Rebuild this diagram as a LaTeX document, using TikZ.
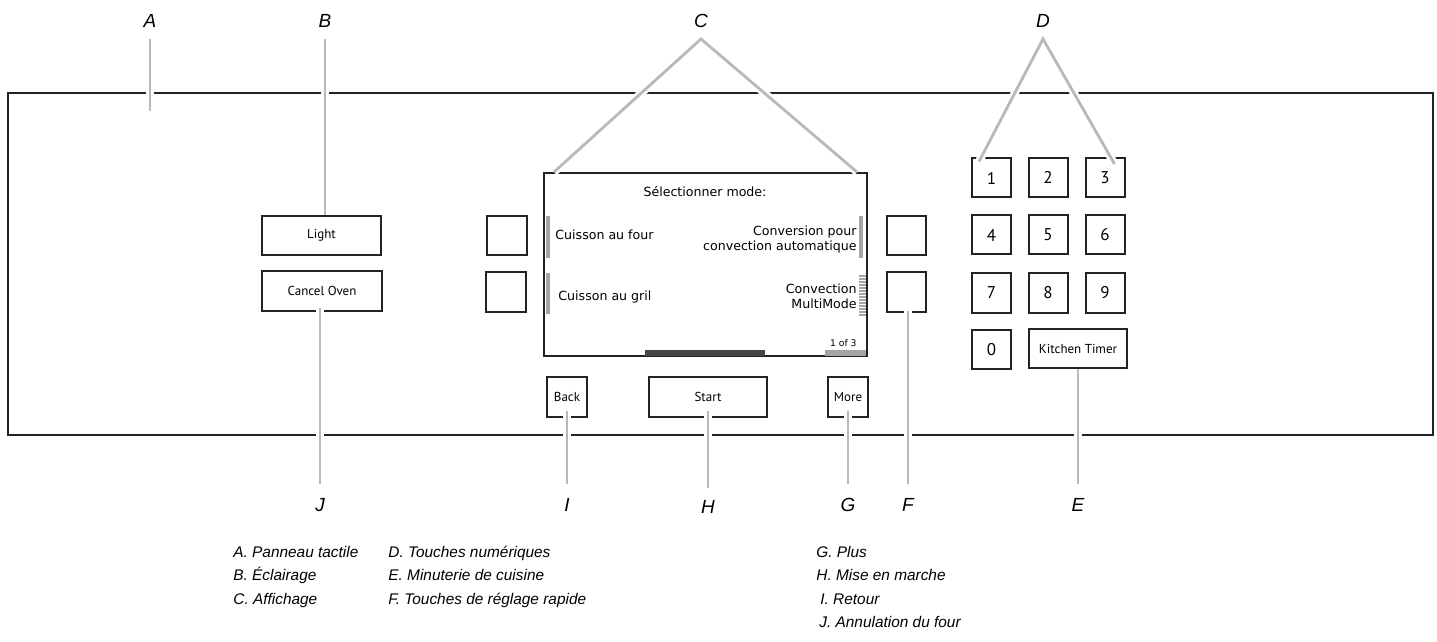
\documentclass[tikz,border=0pt]{standalone}
\usepackage{fontspec}
\setmainfont{Liberation Sans}
\newfontfamily\btnfont{PT Sans}
\newfontfamily\lcdfont{DejaVu Sans}
\usepackage{xcolor}
\usepackage{tikz}
\definecolor{framecol}{RGB}{35,35,35}
\definecolor{leadcol}{RGB}{185,185,185}
\definecolor{barcol}{RGB}{165,165,165}
\definecolor{darkbar}{RGB}{70,70,70}

\tikzset{
  btn/.style={draw=framecol, line width=1pt, inner sep=0pt,
    font=\btnfont\fontsize{6.5}{7}\selectfont},
  keybtn/.style={btn, minimum width=19.5pt, minimum height=19.5pt,
    font=\btnfont\fontsize{8.5}{9}\selectfont},
  letter/.style={inner sep=0pt, font=\fontsize{9.5}{10}\selectfont\itshape},
  leader/.style={draw=leadcol, line width=1.4pt,
    preaction={draw=white, line width=4pt}},
  legend/.style={anchor=base west, inner sep=0pt,
    font=\fontsize{7.7}{9}\selectfont\itshape},
  lcd/.style={inner sep=0pt, font=\lcdfont\fontsize{6.3}{7.5}\selectfont}
}

\begin{document}
\begin{tikzpicture}[x=0.5pt, y=-0.5pt]
  \useasboundingbox (0,0) rectangle (1437,642);

  % control panel frame
  \node[draw=framecol, line width=1pt, inner sep=0pt,
    minimum width=712.5pt, minimum height=171pt] (panel) at (720.5,264) {};

  % left buttons
  \node[btn, minimum width=59.5pt, minimum height=19.5pt] (light) at (321.5,235.5) {Light};
  \node[btn, minimum width=60pt, minimum height=20pt] (cancel) at (322,291) {Cancel Oven};

  % display
  \node[draw=framecol, line width=1pt, inner sep=0pt,
    minimum width=161.5pt, minimum height=91.5pt] (lcd) at (705.5,264.5) {};
  \fill[barcol] (546,216) rectangle (550,258);
  \fill[barcol] (546,273) rectangle (550,314);
  \fill[barcol] (859,216) rectangle (863,258);
  \foreach \yy in {276,279,...,315}
    \draw[barcol, line width=0.6pt] (859,\yy) -- (866,\yy);
  \fill[darkbar] (645,350) rectangle (765,356);
  \fill[barcol] (825,350) rectangle (866,356);
  \node[lcd] (title) at (705,192) {Sélectionner mode:};
  \node[lcd, anchor=west] (bake) at (555,235) {Cuisson au four};
  \node[lcd, anchor=west] (broil) at (558,297) {Cuisson au gril};
  \node[lcd, anchor=east, align=right] (conv) at (857,240)
    {Conversion pour\\convection automatique};
  \node[lcd, anchor=east, align=right] (multi) at (857,296.5)
    {Convection\\MultiMode};
  \node[lcd, anchor=east, font=\lcdfont\fontsize{4.6}{5}\selectfont] (page) at (857,343) {1 of 3};

  % quick set keys
  \node[keybtn, minimum width=20pt] (lsq1) at (507,235.5) {};
  \node[keybtn, minimum width=20pt, minimum height=20pt] (lsq2) at (506,292) {};
  \node[keybtn] (rsq1) at (906.5,235.5) {};
  \node[keybtn, minimum height=20pt] (rsq2) at (906.5,292) {};

  % bottom row
  \node[btn, minimum width=20pt, minimum height=20pt] (back) at (567,397) {Back};
  \node[btn, minimum width=59pt, minimum height=20pt] (start) at (708,397) {Start};
  \node[btn, minimum width=20pt, minimum height=20pt] (more) at (848,397) {More};

  % number pad
  \foreach \n/\xx/\yy in {1/991.5/178, 2/1048/177.5, 3/1105/177.5,
                          4/991.5/235, 5/1048/235, 6/1105/235,
                          7/991.5/293, 8/1048/293, 9/1105/293,
                          0/991.5/349.5}
    \node[keybtn] (key\n) at (\xx,\yy) {\n};
  \node[btn, minimum width=49pt, minimum height=19.5pt] (timer) at (1078,348.5) {Kitchen Timer};

  % letters
  \node[letter] (labA) at (150,21) {A};
  \node[letter] (labB) at (325,21) {B};
  \node[letter] (labC) at (701,21) {C};
  \node[letter] (labD) at (1043,21) {D};
  \node[letter] (labJ) at (320,505) {J};
  \node[letter] (labI) at (567,505) {I};
  \node[letter] (labH) at (708,507) {H};
  \node[letter] (labG) at (848,505) {G};
  \node[letter] (labF) at (908,505) {F};
  \node[letter] (labE) at (1078,505) {E};
  \coordinate (endA) at (150,111);
  \coordinate (apexC) at (701,39);
  \coordinate (apexD) at (1043,39);

  % leader lines
  \draw[leader, shorten <=5.5pt] (labA.south) -- (endA);
  \draw[leader, shorten <=5.5pt] (labB.south) -- (labB.south |- light.north);
  \draw[leader] ([shift={(11,0)}]lcd.north west) -- (apexC)
    -- ([shift={(-11,0)}]lcd.north east);
  \draw[leader] ([shift={(8,4)}]key1.north west) -- (apexD)
    -- ([shift={(-11,7)}]key3.north east);
  \draw[leader, shorten <=7pt, shorten >=-2pt] (labJ.north) -- (labJ.north |- cancel.south);
  \draw[leader, shorten <=7pt, shorten >=-3.5pt] (labI.north) -- (labI.north |- back.south);
  \draw[leader, shorten <=6pt, shorten >=-3.5pt] (labH.north) -- (labH.north |- start.south);
  \draw[leader, shorten <=7pt, shorten >=-3.5pt] (labG.north) -- (labG.north |- more.south);
  \draw[leader, shorten <=7pt, shorten >=-1pt] (labF.north) -- (labF.north |- rsq2.south);
  \draw[leader, shorten <=7pt] (labE.north) -- (labE.north |- timer.south);

  % legend
  \node[legend] (legA) at (233,557) {A.~Panneau tactile};
  \node[legend] (legB) at (233,580) {B.~Éclairage};
  \node[legend] (legC) at (233,604) {C.~Affichage};
  \node[legend] (legD) at (388,557) {D.~Touches numériques};
  \node[legend] (legE) at (388,580) {E.~Minuterie de cuisine};
  \node[legend] (legF) at (388,604) {F.~Touches de réglage rapide};
  \node[legend] (legG) at (816,557) {G.~Plus};
  \node[legend] (legH) at (816,580) {H.~Mise en marche};
  \node[legend] (legI) at (820,604) {I.~Retour};
  \node[legend] (legJ) at (819,627) {J.~Annulation du four};
\end{tikzpicture}
\end{document}
